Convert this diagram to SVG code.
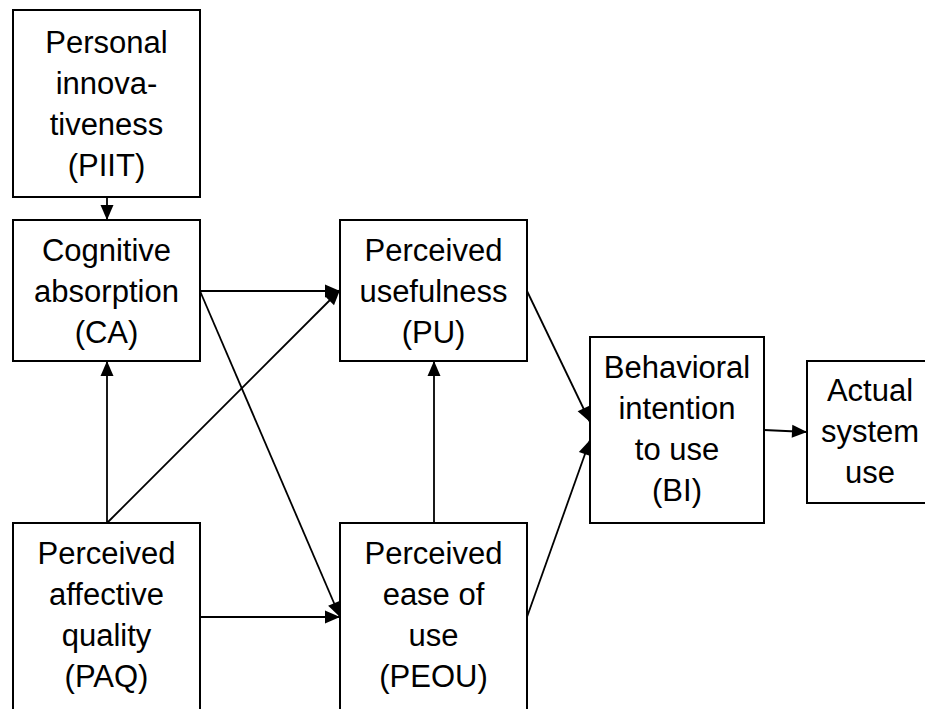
<svg xmlns="http://www.w3.org/2000/svg" width="925" height="709" viewBox="0 0 925 709">
<style>
.box{fill:#fff;stroke:#000;stroke-width:2}
.t{font-family:"Liberation Sans",Arial,sans-serif;font-size:31px;fill:#000;text-anchor:middle}
.ca{stroke:#000;stroke-width:1.8;fill:none;marker-end:url(#ah)}
</style>
<defs>
<marker id="ah" markerUnits="userSpaceOnUse" markerWidth="16" markerHeight="14" refX="15" refY="6.5" orient="auto" overflow="visible">
<path d="M0,0 L15,6.5 L0,13 z" fill="#000"/>
</marker>
</defs>
<rect width="925" height="709" fill="#fff"/>
<g id="connectors">
<line class="ca" x1="107" y1="197" x2="107" y2="220"/>
<line class="ca" x1="200" y1="291" x2="340" y2="291"/>
<line class="ca" x1="107" y1="523" x2="107" y2="361"/>
<line class="ca" x1="107" y1="523" x2="340" y2="290"/>
<line class="ca" x1="200" y1="291" x2="340" y2="617"/>
<line class="ca" x1="200" y1="617" x2="340" y2="617"/>
<line class="ca" x1="434" y1="523" x2="434" y2="361"/>
<line class="ca" x1="527" y1="291" x2="590" y2="422"/>
<line class="ca" x1="527" y1="617" x2="590" y2="440"/>
<line class="ca" x1="764" y1="430" x2="807" y2="432"/>
</g>
<g id="PIIT">
<rect class="box" x="13" y="10" width="187" height="187"/>
<text class="t" x="106.5" y="53">Personal</text>
<text class="t" x="106.5" y="94">innova-</text>
<text class="t" x="106.5" y="135">tiveness</text>
<text class="t" x="106.5" y="176">(PIIT)</text>
</g>
<g id="CA">
<rect class="box" x="13" y="220" width="187" height="141"/>
<text class="t" x="106.5" y="261">Cognitive</text>
<text class="t" x="106.5" y="302">absorption</text>
<text class="t" x="106.5" y="343">(CA)</text>
</g>
<g id="PU">
<rect class="box" x="340" y="220" width="187" height="141"/>
<text class="t" x="433.5" y="261">Perceived</text>
<text class="t" x="433.5" y="302">usefulness</text>
<text class="t" x="433.5" y="343">(PU)</text>
</g>
<g id="PAQ">
<rect class="box" x="13" y="523" width="187" height="200"/>
<text class="t" x="106.5" y="564">Perceived</text>
<text class="t" x="106.5" y="605">affective</text>
<text class="t" x="106.5" y="646">quality</text>
<text class="t" x="106.5" y="687">(PAQ)</text>
</g>
<g id="PEOU">
<rect class="box" x="340" y="523" width="187" height="200"/>
<text class="t" x="433.5" y="564">Perceived</text>
<text class="t" x="433.5" y="605">ease of</text>
<text class="t" x="433.5" y="646">use</text>
<text class="t" x="433.5" y="687">(PEOU)</text>
</g>
<g id="BI">
<rect class="box" x="590" y="337" width="174" height="186"/>
<text class="t" x="677" y="378">Behavioral</text>
<text class="t" x="677" y="419">intention</text>
<text class="t" x="677" y="460">to use</text>
<text class="t" x="677" y="501">(BI)</text>
</g>
<g id="ASU">
<rect class="box" x="807" y="361" width="130" height="142"/>
<text class="t" x="870" y="401">Actual</text>
<text class="t" x="870" y="442">system</text>
<text class="t" x="870" y="483">use</text>
</g>
</svg>
